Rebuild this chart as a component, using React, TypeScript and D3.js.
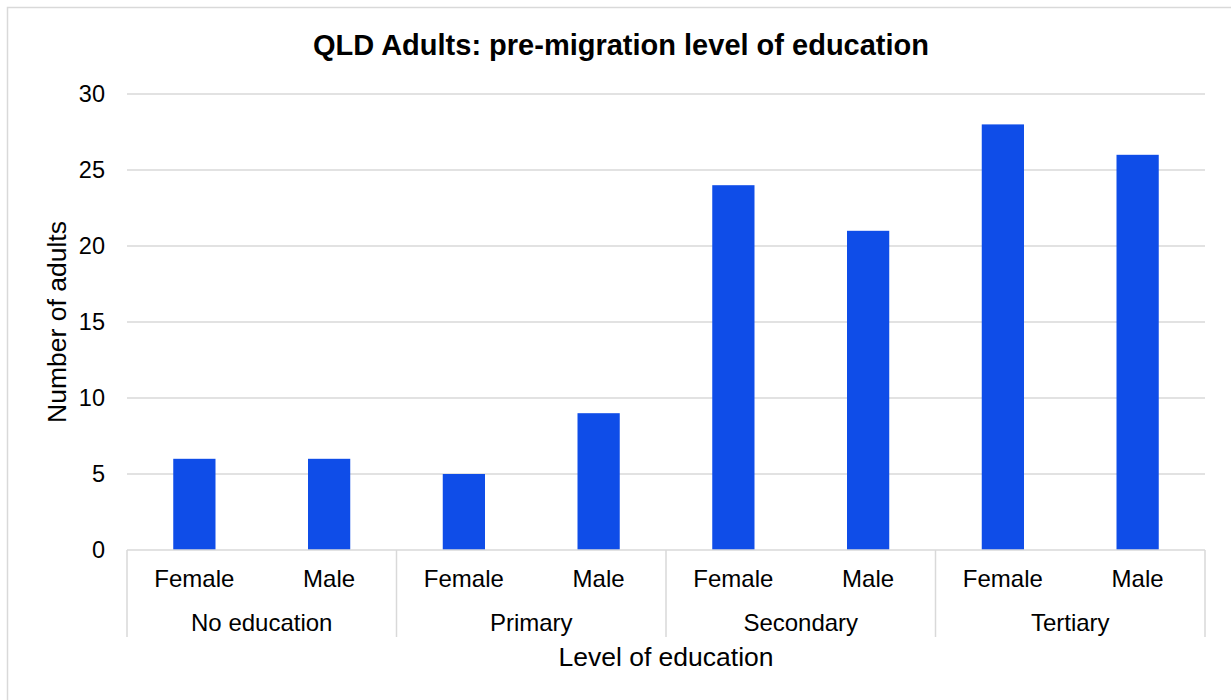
import React from "react";
import * as d3 from "d3";

const groups = ["No education", "Primary", "Secondary", "Tertiary"];
const genders = ["Female", "Male"];
const femaleValues = [6, 5, 24, 28];
const maleValues = [6, 9, 21, 26];
const yTicks = [0, 5, 10, 15, 20, 25, 30];

const W = 1231;
const H = 700;
const left = 127;
const right = 1205;
const top = 94;
const bottom = 550;
const font = "'Liberation Sans', Arial, sans-serif";
const gridColor = "#d9d9d9";
const barColor = "#0f4de8";

export default function App() {
  const x0 = d3.scaleBand<string>().domain(groups).range([left, right]).padding(0);
  const x1 = d3.scaleBand<string>().domain(genders).range([0, x0.bandwidth()]).padding(0);
  const y = d3.scaleLinear().domain([0, 30]).range([bottom, top]);
  const barW = x1.bandwidth() / 3.19;

  const rows = groups.map((g, i) => ({ g, vals: [femaleValues[i], maleValues[i]] }));

  return (
    <svg width={W} height={H} style={{ position: "absolute", left: 0, top: 0, background: "#fff" }} fontFamily={font}>
      <rect x={7.5} y={7.5} width={W + 10} height={H + 10} fill="#fff" stroke={gridColor} strokeWidth={1.5} />
      <text x={621} y={55} textAnchor="middle" fontSize={29} fontWeight="bold" fill="#000">
        QLD Adults: pre-migration level of education
      </text>
      {yTicks.map((t) => (
        <g key={t}>
          {t !== 0 && (
            <line x1={left} x2={right} y1={y(t)} y2={y(t)} stroke={gridColor} strokeWidth={1.5} />
          )}
          <text x={105} y={y(t)} dy="0.35em" textAnchor="end" fontSize={23.5} fill="#000">
            {t}
          </text>
        </g>
      ))}
      {rows.map((r) =>
        genders.map((gen, j) => {
          const cx = (x0(r.g) as number) + (x1(gen) as number) + x1.bandwidth() / 2;
          return (
            <rect
              key={r.g + gen}
              x={cx - barW / 2}
              y={y(r.vals[j])}
              width={barW}
              height={y(0) - y(r.vals[j])}
              fill={barColor}
            />
          );
        })
      )}
      <line x1={left} x2={right} y1={bottom} y2={bottom} stroke={gridColor} strokeWidth={1.5} />
      {[...groups.map((g) => x0(g) as number), right].map((xv, i) => (
        <line key={i} x1={xv} x2={xv} y1={bottom} y2={637} stroke={gridColor} strokeWidth={1.5} />
      ))}
      {rows.map((r) =>
        genders.map((gen) => (
          <text
            key={r.g + gen + "l"}
            x={(x0(r.g) as number) + (x1(gen) as number) + x1.bandwidth() / 2}
            y={587}
            textAnchor="middle"
            fontSize={24}
            fill="#000"
          >
            {gen}
          </text>
        ))
      )}
      {groups.map((g) => (
        <text key={g} x={(x0(g) as number) + x0.bandwidth() / 2} y={631} textAnchor="middle" fontSize={24} fill="#000">
          {g}
        </text>
      ))}
      <text x={(left + right) / 2} y={666} textAnchor="middle" fontSize={26.5} fill="#000">
        Level of education
      </text>
      <text
        transform={`translate(66, ${(top + bottom) / 2}) rotate(-90)`}
        textAnchor="middle"
        fontSize={26.5}
        fill="#000"
      >
        Number of adults
      </text>
    </svg>
  );
}
